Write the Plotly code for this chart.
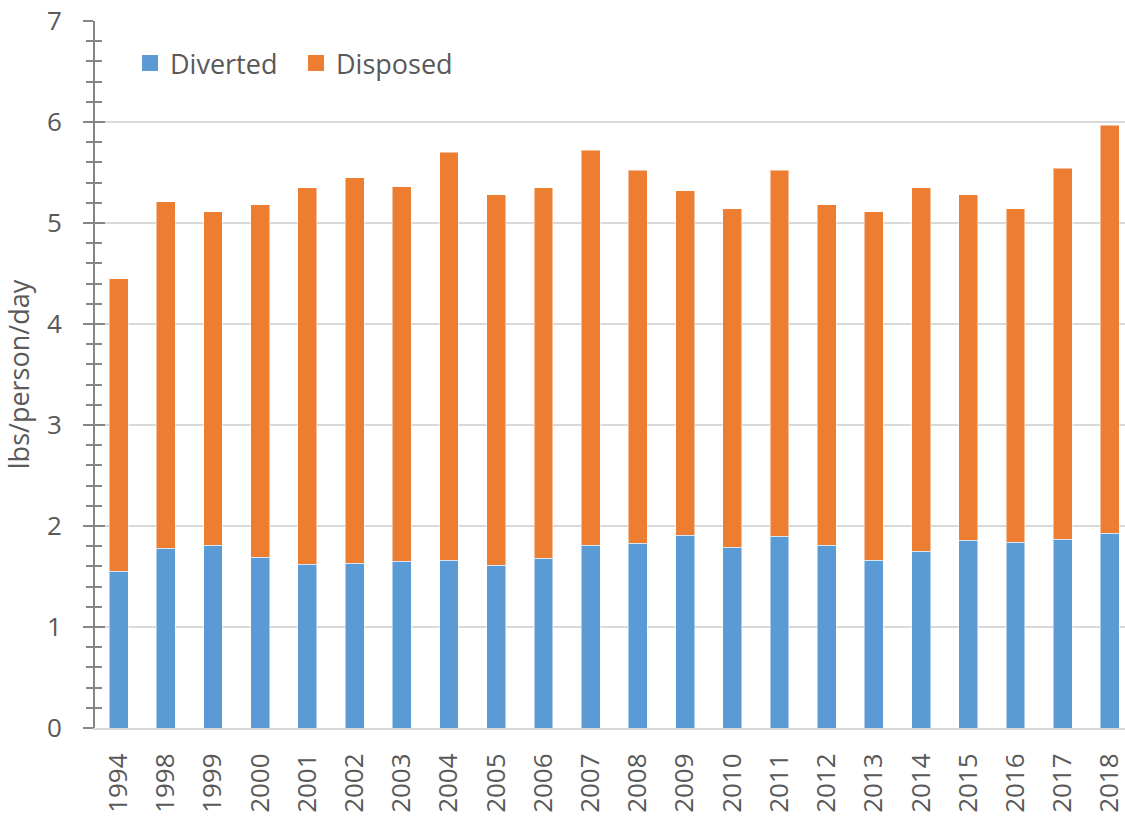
import plotly.graph_objects as go

years = ["1994", "1998", "1999", "2000", "2001", "2002", "2003", "2004", "2005", "2006", "2007",
         "2008", "2009", "2010", "2011", "2012", "2013", "2014", "2015", "2016", "2017", "2018"]
diverted = [1.55, 1.78, 1.81, 1.69, 1.62, 1.63, 1.65, 1.66, 1.61, 1.68, 1.81,
            1.83, 1.91, 1.79, 1.90, 1.81, 1.66, 1.75, 1.86, 1.84, 1.87, 1.93]
total = [4.45, 5.21, 5.11, 5.18, 5.35, 5.45, 5.36, 5.70, 5.28, 5.35, 5.72,
         5.52, 5.32, 5.14, 5.52, 5.18, 5.11, 5.35, 5.28, 5.14, 5.54, 5.97]
disposed = [round(t - d, 2) for t, d in zip(total, diverted)]

BLUE = "#5B9BD5"
ORANGE = "#ED7D31"
TEXT = "#595959"
FONT = "Open Sans"

fig = go.Figure()
fig.add_trace(go.Bar(x=years, y=diverted, name="Diverted", marker_color=BLUE,
                     marker_line=dict(color="rgba(255,255,255,0.5)", width=1), showlegend=False))
fig.add_trace(go.Bar(x=years, y=disposed, name="Disposed", marker_color=ORANGE,
                     marker_line=dict(color="rgba(255,255,255,0.5)", width=1), showlegend=False))
# legend proxies
fig.add_trace(go.Scatter(x=[None], y=[None], mode="markers", name="Diverted",
                         marker=dict(symbol="square", size=18, color=BLUE)))
fig.add_trace(go.Scatter(x=[None], y=[None], mode="markers", name="Disposed",
                         marker=dict(symbol="square", size=18, color=ORANGE)))
# invisible trace on overlay axis for inside ticks
fig.add_trace(go.Scatter(x=[years[0]], y=[0], yaxis="y2", mode="markers",
                         marker=dict(opacity=0), showlegend=False, hoverinfo="skip"))

fig.update_layout(
    width=1125, height=816,
    margin=dict(l=95, r=0, t=21, b=88, autoexpand=False),
    barmode="stack", bargap=0.6,
    plot_bgcolor="white", paper_bgcolor="white",
    font=dict(family=FONT, color=TEXT, size=26),
    legend=dict(orientation="h", x=0.034, y=0.94, xanchor="left", yanchor="middle",
                font=dict(size=27, color=TEXT), itemsizing="trace", traceorder="normal",
                entrywidth=121, entrywidthmode="pixels",
                bgcolor="rgba(0,0,0,0)"),
    xaxis=dict(type="category", range=[-0.5, 21.32], tickangle=-90, automargin=False,
               ticks="", showline=True, linecolor="#d9d9d9", linewidth=2,
               tickfont=dict(size=26, color=TEXT), ticklabelstandoff=13,
               ticklabeloverflow="allow", showgrid=False),
    yaxis=dict(range=[0, 7], dtick=1, showgrid=True, gridcolor="#d9d9d9", gridwidth=1.5,
               showline=True, linecolor="#868686", linewidth=2, automargin=False,
               ticks="outside", ticklen=10, tickwidth=2, tickcolor="#868686",
               minor=dict(dtick=0.2, ticks="outside", ticklen=7, tickwidth=2, tickcolor="#868686", showgrid=False),
               tickfont=dict(size=26, color=TEXT), ticklabelstandoff=16,
               ticklabeloverflow="allow", zeroline=False,
               title=dict(text="lbs/person/day", font=dict(size=27, color=TEXT), standoff=16)),
    yaxis2=dict(range=[0, 7], overlaying="y", side="left", anchor="x", dtick=1, automargin=False,
                showgrid=False, showticklabels=False, zeroline=False, showline=False,
                ticks="inside", ticklen=10, tickwidth=2, tickcolor="#868686",
                minor=dict(dtick=0.2, ticks="inside", ticklen=7, tickwidth=2, tickcolor="#868686", showgrid=False)),
)

fig.write_html("out.html", config={"displayModeBar": False},
               post_script="document.body.style.margin='0';")
